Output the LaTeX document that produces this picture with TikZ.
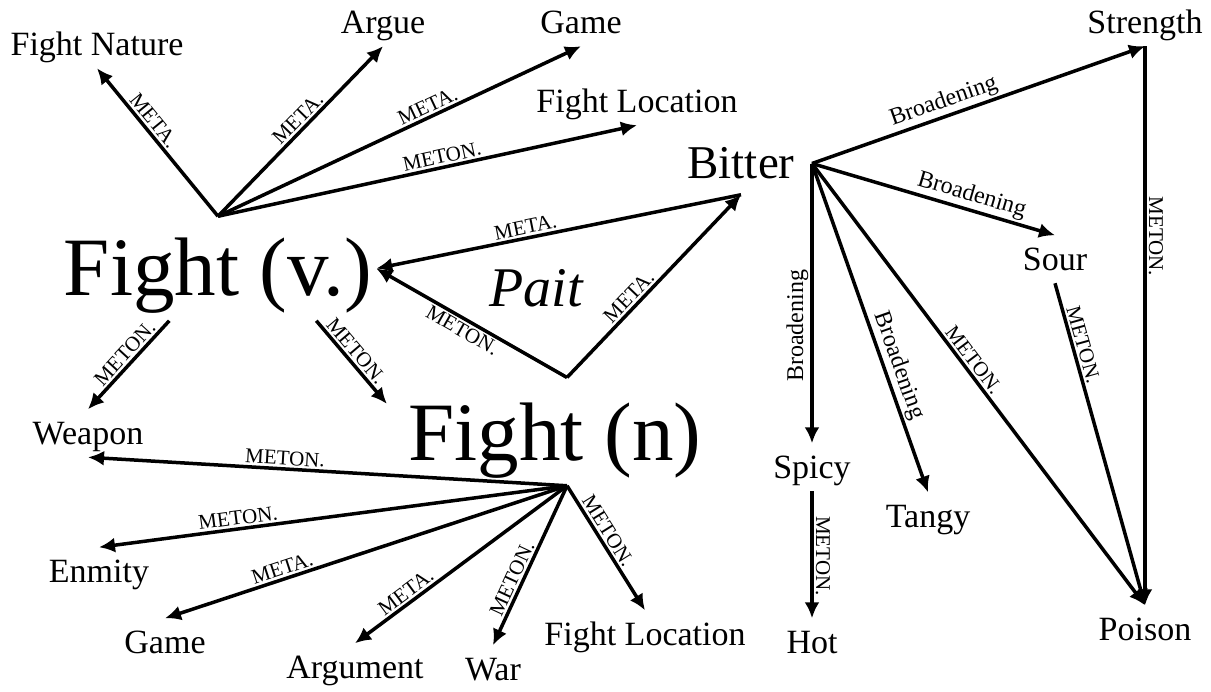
\documentclass[tikz,border=0pt]{standalone}
\usepackage{fontspec}
\setmainfont{Liberation Serif}
\usepackage{tikz}
\usetikzlibrary{arrows.meta}

\begin{document}
\begin{tikzpicture}[x=1pt, y=-1pt, >={Latex[length=16pt,width=15pt]}, line width=3.5pt,
	word/.style={anchor=base, inner sep=2.5pt, text height=31pt, text depth=8.5pt, font=\fontsize{34}{34}\selectfont},
	big/.style={word, text height=75pt, text depth=21pt, font=\fontsize{83}{83}\selectfont},
	rel/.style={sloped, above, inner sep=2pt, font=\fontsize{21}{21}\selectfont},
	broad/.style={rel, font=\fontsize{24}{24}\selectfont}]
	\fill[white] (0,0) rectangle (1211,688);
	%Fight (v.)
	\node[big] (fightv) at (218,295) {Fight (v.)};
	\node[word] (fnature) at (97,55) {Fight Nature};
	\node[word] (argue) at (383,33) {Argue};
	\node[word] (game1) at (581,33) {Game};
	\node[word] (floc1) at (637,112) {Fight Location};
	\draw[->] (fightv.north) -- (fnature.south) node[rel, pos=.6] {META.};
	\draw[->] (fightv.north) -- (argue.south) node[rel, pos=.53] {META.};
	\draw[->] (fightv.north) -- (game1.south) node[rel, pos=.59] {META.};
	\draw[->] (fightv.north) -- (floc1.south) node[rel, pos=.54] {METON.};
	%Pait
	\node[word, font=\itshape\fontsize{56}{56}\selectfont] (pait) at (536,306) {Pait};
	\coordinate (paitv) at (567,377);
	%Bitter
	\node[word, text height=42pt, text depth=12pt, font=\fontsize{47}{47}\selectfont] (bitter) at (741,178) {Bitter};
	\coordinate (bhub) at (812,163);
	\draw[->] (paitv) -- (fightv.east) node[rel, below, pos=.52] {METON.};
	\draw[->] (paitv) -- (bitter.south) node[rel, pos=.4] {META.};
	\draw[->] (bitter.south) -- (fightv.east) node[rel, pos=.585] {META.};
	%Fight (n)
	\node[big, inner xsep=20pt] (fightn) at (555,460) {Fight (n)};
	\coordinate (nhub) at (fightn.-77);
	\node[word] (weapon) at (88,444) {Weapon};
	\node[word] (enmity) at (99,582) {Enmity};
	\node[word] (game2) at (165,653) {Game};
	\node[word] (argument) at (355,678) {Argument};
	\node[word] (war) at (493,680) {War};
	\node[word] (floc2) at (645,645) {Fight Location};
	\draw[->] (fightv.-133) -- (weapon.north) node[rel, pos=.45] {METON.};
	\draw[->] (fightv.-28) -- (fightn.170) node[rel, pos=.45] {METON.};
	\draw[->] (nhub) -- (weapon.south) node[rel, pos=.59] {METON.};
	\draw[->] (nhub) -- (enmity.north) node[rel, pos=.7] {METON.};
	\draw[->] (nhub) -- (game2.north) node[rel, pos=.7] {META.};
	\draw[->] (nhub) -- (argument.north) node[rel, pos=.73] {META.};
	\draw[->] (nhub) -- (war.north) node[rel, pos=.61] {METON.};
	\draw[->] (nhub) -- (floc2.north) node[rel, pos=.41] {METON.};
	%tastes
	\node[word] (strength) at (1145,33) {Strength};
	\node[word] (sour) at (1055,270) {Sour};
	\node[word] (spicy) at (812,478) {Spicy};
	\node[word] (tangy) at (928,527) {Tangy};
	\node[word] (hot) at (812,653) {Hot};
	\node[word] (poison) at (1145,640) {Poison};
	\draw[->] (bhub) -- (strength.south) node[broad, pos=.41] {Broadening};
	\draw[->] (bhub) -- (sour.north) node[broad, pos=.64] {Broadening};
	\draw[->] (bhub) -- (spicy.north) node[broad, rotate=180, pos=.58] {Broadening};
	\draw[->] (bhub) -- (tangy.north) node[broad, pos=.63] {Broadening};
	\draw[->] (bhub) -- (poison.north) node[rel, pos=.46] {METON.};
	\draw[->] (sour.south) -- (poison.north) node[rel, pos=.2] {METON.};
	\draw[->] (strength.south) -- (poison.north) node[rel, pos=.34] {METON.};
	\draw[->] (spicy.south) -- (hot.north) node[rel, pos=.51] {METON.};
\end{tikzpicture}
\end{document}
